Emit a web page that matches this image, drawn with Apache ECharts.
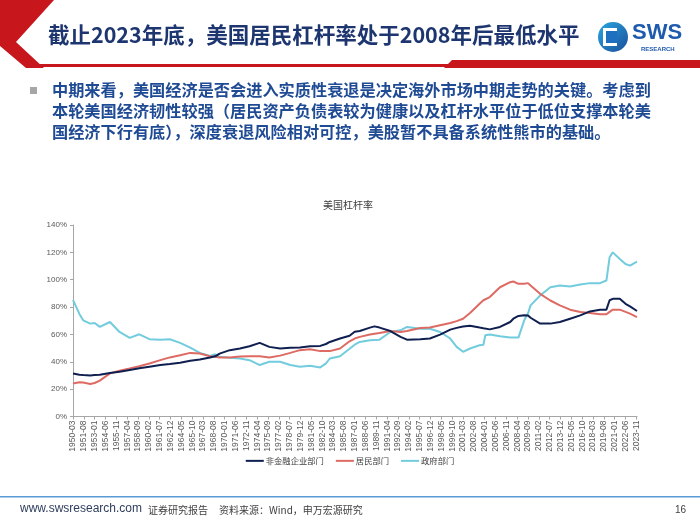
<!DOCTYPE html>
<html><head><meta charset="utf-8">
<script src="https://cdn.jsdelivr.net/npm/echarts/dist/echarts.min.js"></script>
<style>html,body{margin:0;padding:0;background:#fff}#c{width:700px;height:525px}</style>
</head><body><div id="c"></div>
<script>
const seriesNames = ['非金融企业部门', '居民部门', '政府部门'];
const dates = ['1950-03','1951-01','1951-07','1952-06','1953-01','1953-09','1955-01','1956-04','1957-08','1958-11','1960-03','1961-08','1962-11','1964-03','1965-07','1966-10','1968-02','1968-10','1969-05','1970-09','1972-01','1973-04','1974-08','1975-11','1977-04','1978-08','1979-11','1981-03','1982-07','1983-04','1983-10','1985-02','1986-05','1987-01','1987-09','1989-01','1989-08','1990-04','1991-09','1993-01','1993-11','1995-08','1996-11','1998-03','1999-07','2000-05','2001-03','2002-02','2003-05','2003-11','2004-02','2004-09','2006-01','2007-05','2007-10','2008-06','2009-03','2009-09','2010-01','2011-04','2012-08','2013-11','2015-03','2016-07','2017-10','2019-02','2019-12','2020-05','2020-10','2021-09','2022-06','2023-01','2023-12'];
const nonFinCorp = [31.5,30.5,30.3,30.0,30.3,30.5,31.8,32.7,34.0,35.2,36.4,37.6,38.3,39.3,40.7,41.7,43.2,44.0,46.0,48.5,49.7,51.4,53.8,50.9,49.7,50.2,50.4,51.4,51.6,53.0,54.5,57.0,59.0,62.0,62.5,65.0,65.9,65.0,62.5,58.2,56.2,56.5,57.0,59.9,63.5,64.8,65.8,66.4,65.0,64.5,64.0,63.7,65.5,69.1,71.5,73.5,74.0,73.9,72.2,67.9,67.9,69.1,71.5,73.9,76.8,78.1,78.1,85.0,86.0,86.0,82.4,80.5,77.1];
const household = [24.2,25.0,24.8,23.8,24.5,26.2,31.5,33.5,35.2,36.8,38.8,41.2,43.2,44.8,46.5,46.0,44.1,43.6,43.2,43.2,43.8,44.1,44.0,43.2,44.5,46.5,48.5,49.2,47.8,47.8,47.8,49.7,55.0,57.0,58.2,59.9,60.5,61.1,62.5,61.8,62.5,64.7,65.0,66.7,68.4,69.7,71.5,75.6,82.4,85.0,86.0,87.3,94.5,98.2,98.7,97.0,97.0,97.5,95.8,89.7,84.8,81.2,78.1,76.4,75.6,74.7,74.7,76.5,78.1,78.1,76.5,75.2,72.7];
const government = [85.3,75.0,70.3,67.9,68.4,65.5,69.1,61.8,57.5,60.1,56.5,56.2,56.5,53.8,50.4,46.5,44.3,45.5,43.6,42.9,42.4,41.2,37.6,40.0,40.0,37.6,36.4,37.1,35.9,38.8,42.4,44.1,49.5,52.5,54.5,55.8,56.0,56.2,61.8,63.0,65.5,64.2,64.2,61.8,57.0,50.9,47.3,49.7,52.1,52.5,59.4,60.0,58.7,57.7,57.7,57.7,70.3,75.5,81.2,88.5,94.5,95.8,95.0,96.5,97.5,97.5,99.4,116.4,120.0,115.2,111.5,110.3,113.2];
const xTickLabels = ['1950-03','1951-08','1953-01','1954-06','1955-11','1957-04','1958-09','1960-02','1961-07','1962-12','1964-05','1965-10','1967-03','1968-08','1970-01','1971-06','1972-11','1974-04','1975-09','1977-02','1978-07','1979-12','1981-05','1982-10','1984-03','1985-08','1987-01','1988-06','1989-11','1991-04','1992-09','1994-02','1995-07','1996-12','1998-05','1999-10','2001-03','2002-08','2004-01','2005-06','2006-11','2008-04','2009-09','2011-02','2012-07','2013-12','2015-05','2016-10','2018-03','2019-08','2021-01','2022-06','2023-11'];
const colors = ['#0F1F4F', '#DD6A63', '#72CCDD'];

function monthIndex(s) {
  const p = s.split('-');
  return (parseInt(p[0], 10) - 1950) * 12 + (parseInt(p[1], 10) - 3);
}
const xMax = monthIndex(dates[dates.length - 1]);
const tickStep = monthIndex(xTickLabels[1]);
function pairs(arr) { return dates.map((d, i) => [monthIndex(d), arr[i]]); }

const chart = echarts.init(document.getElementById('c'), null, {renderer: 'canvas'});
const textBlue = '#1F4A94';
const titleBlue = '#1E3670';
const option = {
  animation: false,
  color: colors,
  grid: {left: 73, right: 63, top: 225, bottom: 108.5, containLabel: false},
  title: {
    text: '美国杠杆率', left: 318, top: 195,
    textStyle: {fontSize: 10, fontWeight: 'normal', color: '#404040', fontFamily: 'Noto Sans CJK SC'}
  },
  legend: {
    bottom: 55, left: 'center',
    icon: 'rect', itemWidth: 18, itemHeight: 2, itemGap: 12,
    textStyle: {fontSize: 8.3, color: '#404040', fontFamily: 'Noto Sans CJK SC', padding: [0, 0, 0, -3]},
    data: seriesNames
  },
  xAxis: {
    type: 'value', min: 0, max: xMax, interval: tickStep,
    splitLine: {show: false},
    axisLine: {lineStyle: {color: '#A6A6A6', width: 1}},
    axisTick: {show: true, length: 3, lineStyle: {color: '#A6A6A6'}},
    axisLabel: {
      rotate: 90, fontSize: 8.5, color: '#595959', fontFamily: 'Liberation Sans', margin: 4,
      showMaxLabel: false,
      formatter: function (v) {
        if (v % tickStep !== 0) return '';
        const i = v / tickStep;
        return xTickLabels[i] || '';
      }
    }
  },
  yAxis: {
    type: 'value', min: 0, max: 140, interval: 20,
    splitLine: {show: false},
    axisLine: {show: true, lineStyle: {color: '#A6A6A6', width: 1}},
    axisTick: {show: true, length: 3, lineStyle: {color: '#A6A6A6'}},
    axisLabel: {formatter: '{value}%', fontSize: 8, color: '#595959', fontFamily: 'Liberation Sans', margin: 6}
  },
  series: [nonFinCorp, household, government].map((arr, k) => ({
    name: seriesNames[k], type: 'line', showSymbol: false, symbol: 'none',
    data: pairs(arr), lineStyle: {width: 2, color: colors[k]}, itemStyle: {color: colors[k]}, z: 3 - k
  })),
  graphic: [
    {type: 'polygon', shape: {points: [[0,0],[54,0],[16,42],[44,68],[26,68],[0,46]]}, style: {fill: '#C8161D'}},
    {type: 'rect', shape: {x: 40, y: 64, width: 660, height: 3}, style: {fill: '#C8161D'}},
    {type: 'polygon', shape: {points: [[452,60],[700,60],[700,68],[444,68]]}, style: {fill: '#C8161D'}},
    {type: 'text', left: 48, top: 24, style: {text: '截止2023年底，美国居民杠杆率处于2008年后最低水平', fontSize: 21.5, fontWeight: 'bold', fill: titleBlue, fontFamily: 'Noto Sans CJK SC'}},
    {type: 'circle', shape: {cx: 613, cy: 37, r: 15}, style: {fill: new echarts.graphic.LinearGradient(0, 0, 1, 1, [{offset: 0, color: '#29A8E0'}, {offset: 1, color: '#1B4E9B'}])}},
    {type: 'rect', shape: {x: 603, y: 28, width: 14, height: 18}, style: {fill: '#fff'}},
    {type: 'rect', shape: {x: 606, y: 31, width: 11, height: 12}, style: {fill: '#1E6FBF'}},
    {type: 'text', left: 632, top: 22, style: {text: 'SWS', fontSize: 22, fontWeight: 'bold', fill: '#1E5AAE', fontFamily: 'Liberation Sans'}},
    {type: 'text', left: 641, top: 46, style: {text: 'RESEARCH', fontSize: 6, fontWeight: 'bold', fill: '#1E5AAE', fontFamily: 'Liberation Sans'}},
    {type: 'rect', shape: {x: 30, y: 87, width: 7, height: 7}, style: {fill: '#A6A6A6'}},
    {type: 'text', left: 52, top: 82, style: {text: '中期来看，美国经济是否会进入实质性衰退是决定海外市场中期走势的关键。考虑到', fontSize: 16.2, fontWeight: 'bold', fill: textBlue, fontFamily: 'Noto Sans CJK SC'}},
    {type: 'text', left: 52, top: 103, style: {text: '本轮美国经济韧性较强（居民资产负债表较为健康以及杠杆水平位于低位支撑本轮美', fontSize: 16.2, fontWeight: 'bold', fill: textBlue, fontFamily: 'Noto Sans CJK SC'}},
    {type: 'text', left: 52, top: 124, style: {text: '国经济下行有底），深度衰退风险相对可控，美股暂不具备系统性熊市的基础。', fontSize: 16.2, fontWeight: 'bold', fill: textBlue, fontFamily: 'Noto Sans CJK SC'}},
    {type: 'rect', shape: {x: 0, y: 496, width: 700, height: 1.5}, style: {fill: '#5B9BD5'}},
    {type: 'text', left: 20, top: 503, style: {text: 'www.swsresearch.com', fontSize: 12, fill: '#2E3E5C', fontFamily: 'Liberation Sans'}},
    {type: 'text', left: 148, top: 505, style: {text: '证券研究报告', fontSize: 10, fill: '#404040', fontFamily: 'Noto Sans CJK SC'}},
    {type: 'text', left: 219, top: 505, style: {text: '资料来源：Wind，申万宏源研究', fontSize: 10, fill: '#404040', fontFamily: 'Noto Sans CJK SC'}},
    {type: 'text', left: 675, top: 505, style: {text: '16', fontSize: 10, fill: '#404040', fontFamily: 'Liberation Sans'}}
  ]
};
chart.setOption(option);
</script>
</body></html>
